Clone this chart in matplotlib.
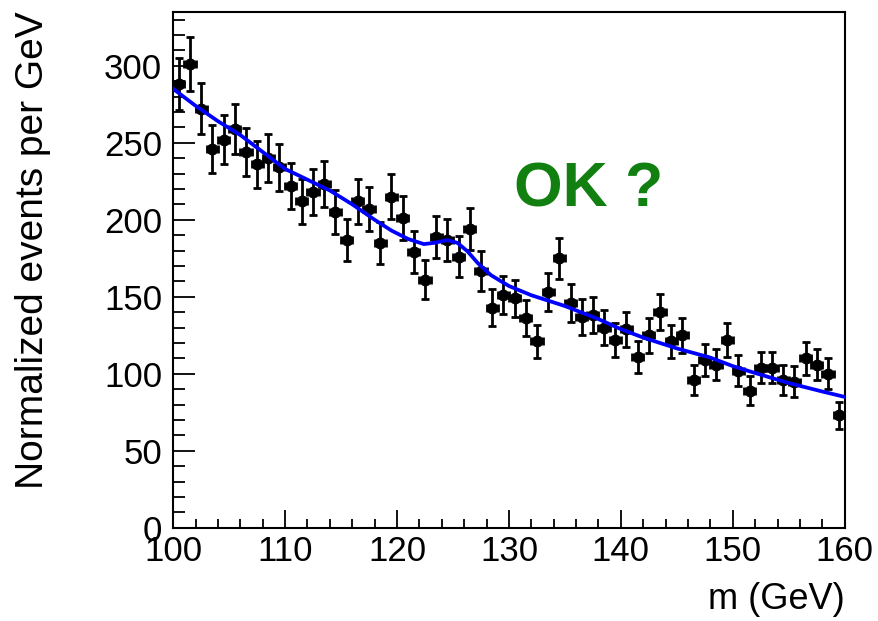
import numpy as np
import matplotlib
matplotlib.use("Agg")
import matplotlib.pyplot as plt
from matplotlib.ticker import MultipleLocator

# Binned data: 1 GeV bins from 100 to 160
bin_lo = 100
bin_width = 1.0
counts = [288, 301, 272, 246, 252, 259, 244, 236, 240, 234,
          222, 212, 218, 223, 205, 187, 212, 207, 185, 215,
          201, 179, 161, 189, 187, 176, 194, 167, 143, 151,
          149, 136, 121, 153, 175, 146, 137, 138, 130, 122,
          129, 111, 125, 140, 121, 125, 96, 109, 106, 122,
          102, 89, 104, 104, 96, 95, 110, 106, 100, 73]

# Fitted curve, sampled off the plot
fit_m = [100, 102, 104, 106, 108, 110, 112, 114, 116, 118, 119.5,
         121, 122.4, 123.3, 124.5, 125.4, 126.3, 127.2, 128.4, 130,
         132, 135, 138, 140, 142, 145, 148, 150, 152, 155, 158, 160]
fit_y = [285, 274, 264, 255, 244, 233, 226, 219, 210, 200, 193,
         187.5, 184.2, 185, 186.8, 185, 179.5, 172, 164, 157,
         151, 144, 135.5, 129, 123.5, 116.5, 110.5, 105, 100.5, 94, 88.5, 85]

x = bin_lo + bin_width * (np.arange(len(counts)) + 0.5)
y = np.array(counts, dtype=float)
yerr = np.sqrt(y)

plt.rcParams['font.family'] = ['Liberation Sans', 'DejaVu Sans']

fig = plt.figure(figsize=(8.79, 6.21), dpi=100)
ax = fig.add_axes([0.197, 0.150, 0.764, 0.831])

ax.errorbar(x, y, xerr=bin_width / 2, yerr=yerr, fmt='o', color='black',
            markersize=7.5, elinewidth=2.0, capsize=3.0, capthick=2.0, zorder=3)
ax.plot(fit_m, fit_y, color='#0000ff', linewidth=2.7, zorder=4)

ax.set_xlim(100, 160)
ax.set_ylim(0, 335)

ax.xaxis.set_major_locator(MultipleLocator(10))
ax.xaxis.set_minor_locator(MultipleLocator(2))
ax.yaxis.set_major_locator(MultipleLocator(50))
ax.yaxis.set_minor_locator(MultipleLocator(10))

ax.tick_params(axis='both', which='both', direction='in', top=False, right=False,
               labelsize=25, width=1.3)
ax.tick_params(axis='x', which='major', length=13, pad=5)
ax.tick_params(axis='x', which='minor', length=6.5)
ax.tick_params(axis='y', which='major', length=16, pad=8)
ax.tick_params(axis='y', which='minor', length=8.5)
for s in ax.spines.values():
    s.set_linewidth(1.5)

ax.set_xlabel('m (GeV)', fontsize=26, loc='right', labelpad=10)
ax.set_ylabel('Normalized events per GeV', fontsize=28, loc='top', labelpad=38)

ax.text(0.507, 0.655, 'OK ?', transform=ax.transAxes, color='#118011',
        fontsize=45, fontweight='bold', ha='left', va='center')

fig.savefig('out.png', dpi=100)
